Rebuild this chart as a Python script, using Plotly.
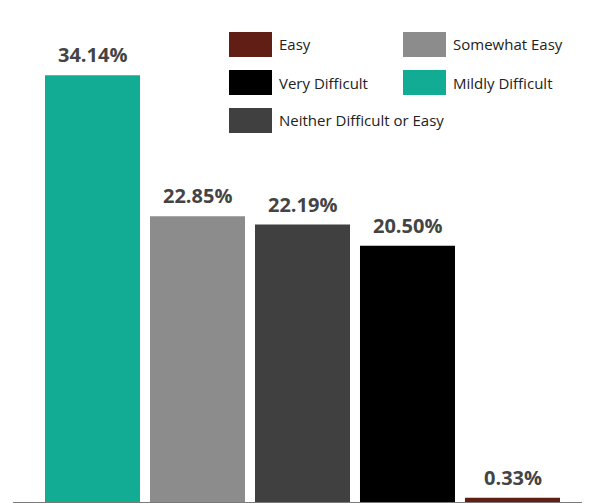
import plotly.graph_objects as go

categories = ["Mildly Difficult", "Somewhat Easy", "Neither Difficult or Easy", "Very Difficult", "Easy"]
values = [34.14, 22.85, 22.19, 20.50, 0.33]
labels = ["34.14%", "22.85%", "22.19%", "20.50%", "0.33%"]
colors = {
    "Easy": "#601E14",
    "Somewhat Easy": "#8C8C8C",
    "Very Difficult": "#000000",
    "Mildly Difficult": "#12AC94",
    "Neither Difficult or Easy": "#404040",
}
legend_order = ["Easy", "Somewhat Easy", "Very Difficult", "Mildly Difficult", "Neither Difficult or Easy"]

# page body has an 8px margin, so the figure is drawn 8px in from the corner
OFF = 8
W, H = 590 - OFF, 503 - OFF
L, R, T, B = 13 - OFF, 0, 0, 1
pw, ph = W - L - R, H - T - B

def px(x):
    return (x - OFF - L) / pw

def py(y):
    return (H - B - (y - OFF)) / ph

fig = go.Figure()
fig.add_trace(go.Bar(
    x=list(range(len(categories))), y=values,
    marker=dict(color=[colors[c] for c in categories], line=dict(width=0)),
    showlegend=False, hoverinfo="skip",
))

for i, (v, t) in enumerate(zip(values, labels)):
    fig.add_annotation(x=i, y=v, text="<b>" + t + "</b>", showarrow=False,
                       yanchor="bottom", yshift=5,
                       font=dict(family="Open Sans", size=20, color="#444444"))

# custom legend: two columns of large swatches
for k, name in enumerate(legend_order):
    row, col = divmod(k, 2)
    x0 = 229 + col * 174
    y0 = 32 + row * 38
    fig.add_shape(type="rect", xref="paper", yref="paper",
                  x0=px(x0), x1=px(x0 + 43), y0=py(y0), y1=py(y0 + 25),
                  fillcolor=colors[name], line=dict(width=0))
    fig.add_annotation(xref="paper", yref="paper", x=px(x0 + 48), y=py(y0 + 12.5),
                       xanchor="left", yanchor="middle", showarrow=False, text=name,
                       font=dict(family="Open Sans", size=15, color="#222222"))

# x range chosen so bar pitch is 105px with first bar centred at x=92.5 on the page
xr0 = (13 - 92.5) / 105
xr1 = xr0 + pw / 105

fig.update_layout(
    width=W, height=H,
    margin=dict(l=L, r=R, t=T, b=B),
    paper_bgcolor="white", plot_bgcolor="white",
    bargap=0.095,
    xaxis=dict(range=[xr0, xr1], showticklabels=False, showgrid=False, zeroline=False,
               showline=True, linecolor="#7A7A7A", linewidth=2, ticks=""),
    yaxis=dict(range=[0, ph / 12.5], visible=False),
)

fig.write_html("out.html")
